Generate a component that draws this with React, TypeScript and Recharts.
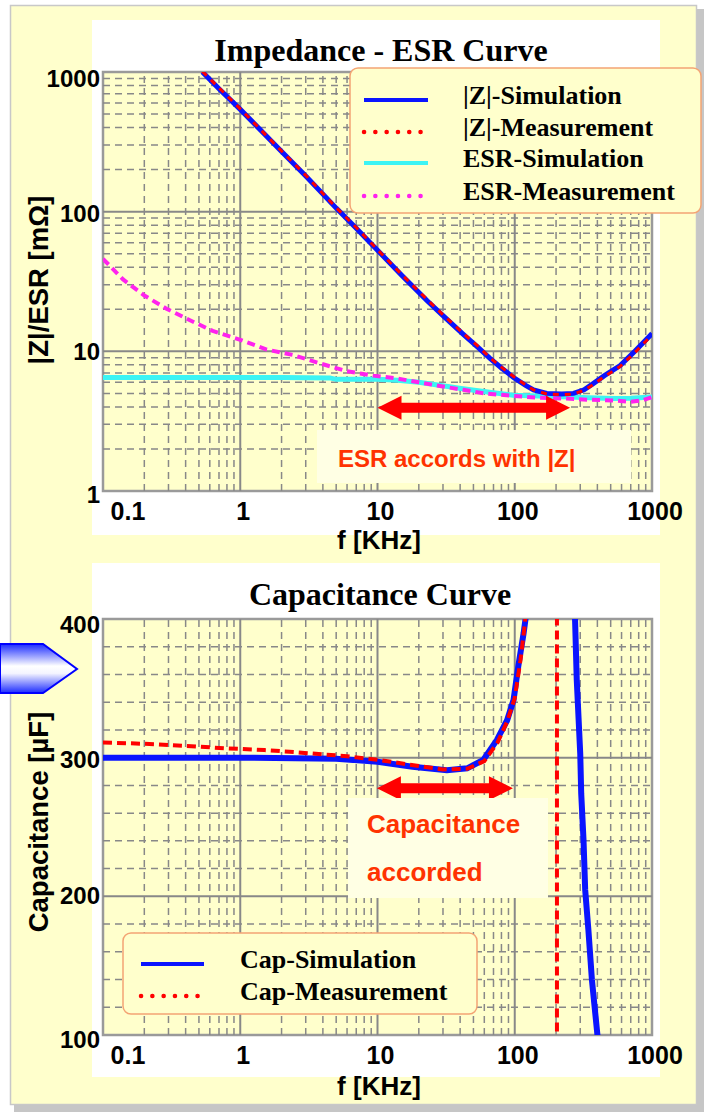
import React from "react";
import { LineChart, Line, XAxis, YAxis, ReferenceLine, ReferenceArea, Legend } from "recharts";

const SANS = "'Liberation Sans', Arial, Helvetica, sans-serif";
const SERIF = "'Liberation Serif', 'Times New Roman', Times, serif";

// frequency axis, kHz (log)
const freqTicks = [0.1, 1, 10, 100, 1000];
const freqMajor = [1, 10, 100];
const freqMinor = [0.2, 0.3, 0.4, 0.5, 0.6, 0.7, 0.8, 0.9, 2, 3, 4, 5, 6, 7, 8, 9, 20, 30, 40, 50, 60, 70, 80, 90, 200, 300, 400, 500, 600, 700, 800, 900];

// impedance / ESR, mOhm (log)
const zTicks = [1, 10, 100, 1000];
const zMajor = [10, 100];
const zMinor = [2, 3, 4, 5, 6, 7, 8, 9, 20, 30, 40, 50, 60, 70, 80, 90, 200, 300, 400, 500, 600, 700, 800, 900];

const zSimFreq = [0.53, 0.7, 1, 1.5, 2, 3, 5, 7, 10, 15, 23, 30, 42, 55, 66, 80, 98, 120, 137, 171, 220, 268, 320, 375, 450, 586, 750, 970, 1000];
const zSimVal = [1000, 760, 540, 360, 270, 180, 106, 76, 53, 35, 23, 18, 13.3, 10.5, 8.9, 7.6, 6.5, 5.7, 5.3, 5.0, 4.95, 5.0, 5.3, 5.9, 6.7, 7.9, 10, 13, 13.4];
const zMeasFreq = [0.53, 0.7, 1, 1.5, 2, 3, 5, 7, 10, 15, 23, 30, 42, 55, 66, 80, 98, 120, 137, 171, 220, 268, 320, 375, 450, 586, 750, 970, 1000];
const zMeasVal = [1010, 770, 545, 362, 272, 182, 107, 77, 53.5, 35.5, 23.5, 18.3, 13.5, 10.7, 9.0, 7.7, 6.6, 5.75, 5.3, 4.95, 4.9, 4.95, 5.25, 5.8, 6.6, 7.8, 9.8, 12.7, 13.1];

const esrSimFreq = [0.1, 0.5, 1, 2, 4.5, 5, 7, 10, 14, 20, 42, 70, 97, 150, 225, 350, 521, 700, 1000];
const esrSimVal = [6.5, 6.5, 6.5, 6.5, 6.45, 6.3, 6.3, 6.3, 6.2, 6.0, 5.4, 5.05, 4.85, 4.78, 4.72, 4.65, 4.6, 4.62, 4.72];
const esrMeasFreq = [0.1, 0.14, 0.2, 0.29, 0.43, 0.63, 1, 1.56, 2.44, 3.8, 6, 9.3, 13.8, 20, 30, 42, 60, 97, 150, 225, 350, 521, 700, 850, 1000];
const esrMeasVal = [46, 32.7, 25.1, 20.2, 16.7, 14, 12.1, 10.3, 9.4, 8.2, 7.2, 6.7, 6.4, 6.0, 5.6, 5.3, 5.0, 4.8, 4.65, 4.6, 4.5, 4.45, 4.35, 4.45, 4.7];

// capacitance, uF (linear)
const capTicks = [100, 200, 300, 400];
const capMajor = [200, 300];
const capMinor = [120, 140, 160, 180, 220, 240, 260, 280, 320, 340, 360, 380];

const capSimFreq = [0.1, 1, 5, 10, 18, 32, 45, 59, 74, 88, 98, 106, 116, 120, 126, 200, 272, 275, 283, 300, 305, 317, 326, 344, 365, 397, 405];
const capSimVal = [300, 300, 299.3, 297, 293.5, 291, 292.3, 298.3, 312.7, 327, 341.6, 365.6, 389.7, 400.5, 425, null, 440, 400, 356, 303, 274, 240.6, 204.6, 175.7, 139.7, 103.6, 95];
const capMeasFreq = [0.1, 0.2, 0.4, 0.8, 1.5, 2.5, 4, 6, 10, 20, 30, 45, 60, 75, 88, 100, 110, 118, 126, 203, 203];
const capMeasVal = [311, 310, 308.5, 306.7, 305.5, 304, 302.4, 301, 298.5, 294, 291.5, 292, 297.5, 311, 326, 343, 370, 395, 425, 425, 60];

const rows = (freq: number[], val: (number | null)[]) => freq.map((f, i) => ({ f, v: val[i] }));

type Series = { name: string; data: { f: number; v: number | null }[]; color: string; width: number; dash?: string };

// legend order
const zSeries: Series[] = [
  { name: "|Z|-Simulation", data: rows(zSimFreq, zSimVal), color: "#0a14ff", width: 5 },
  { name: "|Z|-Measurement", data: rows(zMeasFreq, zMeasVal), color: "#ff0000", width: 3, dash: "6 6" },
  { name: "ESR-Simulation", data: rows(esrSimFreq, esrSimVal), color: "#3cf4f4", width: 5 },
  { name: "ESR-Measurement", data: rows(esrMeasFreq, esrMeasVal), color: "#ff22ee", width: 4, dash: "8 5" },
];
const zDrawOrder = [2, 3, 0, 1];

const capSeries: Series[] = [
  { name: "Cap-Simulation", data: rows(capSimFreq, capSimVal), color: "#0a14ff", width: 6 },
  { name: "Cap-Measurement", data: rows(capMeasFreq, capMeasVal), color: "#ff0000", width: 4, dash: "9 5" },
];

const GRID = "#888888";

const FreqTick = ({ x, y, payload }: any) => {
  const v = payload.value as number;
  const dx = v === 0.1 ? 25 : 3;
  return (
    <text x={x + dx} y={y + 29} textAnchor="middle" fontFamily={SANS} fontWeight="bold" fontSize={25} fill="#000">
      {String(v)}
    </text>
  );
};

const ZTick = ({ x, y, payload }: any) => {
  const v = payload.value as number;
  const dy = v === 1000 ? 15 : v === 1 ? 12 : v === 100 ? 10 : 9;
  return (
    <text x={x - 3} y={y + dy} textAnchor="end" fontFamily={SANS} fontWeight="bold" fontSize={24} fill="#000">
      {String(v)}
    </text>
  );
};

const CapTick = ({ x, y, payload }: any) => {
  const v = payload.value as number;
  const dy = v === 400 ? 14 : v === 100 ? 13 : v === 300 ? 10 : 8;
  return (
    <text x={x - 3} y={y + dy} textAnchor="end" fontFamily={SANS} fontWeight="bold" fontSize={24} fill="#000">
      {String(v)}
    </text>
  );
};

const DoubleArrow = (p: any) => {
  const { x1, y1, x2 } = p;
  const y = y1;
  const hl = 24, hh = 12, sh = 5;
  const pts = [
    [x1, y], [x1 + hl, y - hh], [x1 + hl, y - sh], [x2 - hl, y - sh], [x2 - hl, y - hh],
    [x2, y], [x2 - hl, y + hh], [x2 - hl, y + sh], [x1 + hl, y + sh], [x1 + hl, y + hh],
  ];
  return <polygon points={pts.map((q) => q.join(",")).join(" ")} fill="#ff0000" />;
};

function LegendBox({ series, width, height, sampleX, textX, rowY }: any) {
  return (
    <svg width={width} height={height} style={{ display: "block" }}>
      <rect x={1} y={1} width={width - 2} height={height - 2} rx={8} fill="#FFFFCC" stroke="#f4a474" strokeWidth={1.5} />
      {series.map((s: Series, i: number) => {
        const base = rowY[i];
        return (
          <g key={s.name}>
            {s.dash ? (
              <line x1={sampleX[0]} x2={sampleX[1] - 6} y1={base - 4} y2={base - 4} stroke={s.color} strokeWidth={4.5}
                strokeDasharray="0.1 11.2" strokeLinecap="round" />
            ) : (
              <line x1={sampleX[0]} x2={sampleX[1]} y1={base - 4} y2={base - 4} stroke={s.color} strokeWidth={4} />
            )}
            <text x={textX} y={base} fontFamily={SERIF} fontWeight="bold" fontSize={26} fill="#000">
              {s.name}
            </text>
          </g>
        );
      })}
    </svg>
  );
}

const gridLines = (xs: number[], ys: number[], yMajor: number[]) => [
  ...freqMinor.map((f) => <ReferenceLine key={"xm" + f} x={f} stroke={GRID} strokeWidth={1.5} strokeDasharray="7 5" />),
  ...ys.map((v) => <ReferenceLine key={"ym" + v} y={v} stroke={GRID} strokeWidth={1.5} strokeDasharray="7 5" />),
  ...xs.map((f) => <ReferenceLine key={"xM" + f} x={f} stroke={GRID} strokeWidth={2} />),
  ...yMajor.map((v) => <ReferenceLine key={"yM" + v} y={v} stroke={GRID} strokeWidth={2} />),
];

function ImpedanceChart() {
  return (
    <LineChart width={704} height={560} margin={{ top: 72, right: 52, bottom: 0, left: 0 }}>
      <XAxis dataKey="f" type="number" scale="log" domain={[0.1, 1000]} allowDataOverflow ticks={freqTicks} interval={0}
        axisLine={false} tickLine={false} tickSize={0} tickMargin={0} height={69} tick={<FreqTick />} />
      <YAxis type="number" scale="log" domain={[1, 1000]} allowDataOverflow ticks={zTicks} interval={0}
        axisLine={false} tickLine={false} tickSize={0} tickMargin={0} width={103} tick={<ZTick />} />
      <ReferenceArea x1={0.1} x2={1000} y1={1} y2={1000} fill="#FFFFCC" fillOpacity={1} stroke="none" />
      {gridLines(freqMajor, zMinor, zMajor)}
      {zDrawOrder.map((i) => {
        const s = zSeries[i];
        return (
          <Line key={s.name} data={s.data} dataKey="v" name={s.name} type="linear" stroke={s.color} strokeWidth={s.width}
            strokeDasharray={s.dash} dot={false} activeDot={false} isAnimationActive={false} />
        );
      })}
      <ReferenceLine segment={[{ x: 10, y: 3.94 }, { x: 253, y: 3.94 }]} shape={DoubleArrow} />
      <ReferenceArea x1={0.1} x2={1000} y1={1} y2={1000} fill="none" stroke="#9a9a9a" strokeWidth={2.5} />
      <Legend layout="horizontal" verticalAlign="middle" align="center"
        wrapperStyle={{ left: 349, top: 67, width: 353, height: 147, margin: 0, padding: 0 }}
        content={() => <LegendBox series={zSeries} width={353} height={147} sampleX={[15, 79]} textX={114} rowY={[37, 69, 100, 133]} />} />
    </LineChart>
  );
}

function CapacitanceChart() {
  return (
    <LineChart width={704} height={552} margin={{ top: 59, right: 52, bottom: 0, left: 0 }}>
      <XAxis dataKey="f" type="number" scale="log" domain={[0.1, 1000]} allowDataOverflow ticks={freqTicks} interval={0}
        axisLine={false} tickLine={false} tickSize={0} tickMargin={0} height={77} tick={<FreqTick />} />
      <YAxis type="number" domain={[100, 400]} allowDataOverflow ticks={capTicks} interval={0}
        axisLine={false} tickLine={false} tickSize={0} tickMargin={0} width={103} tick={<CapTick />} />
      <ReferenceArea x1={0.1} x2={1000} y1={100} y2={400} fill="#FFFFCC" fillOpacity={1} stroke="none" />
      {gridLines(freqMajor, capMinor, capMajor)}
      {capSeries.map((s) => (
        <Line key={s.name} data={s.data} dataKey="v" name={s.name} type="linear" stroke={s.color} strokeWidth={s.width}
          strokeDasharray={s.dash} dot={false} activeDot={false} connectNulls={false} isAnimationActive={false} />
      ))}
      <ReferenceLine segment={[{ x: 9.9, y: 278 }, { x: 97, y: 278 }]} shape={DoubleArrow} />
      <ReferenceArea x1={0.1} x2={1000} y1={100} y2={400} fill="none" stroke="#9a9a9a" strokeWidth={2.5} />
      <Legend layout="horizontal" verticalAlign="middle" align="center"
        wrapperStyle={{ left: 122, top: 372, width: 356, height: 83, margin: 0, padding: 0 }}
        content={() => <LegendBox series={capSeries} width={356} height={83} sampleX={[19, 82]} textX={118} rowY={[36, 68]} />} />
    </LineChart>
  );
}

export default function App() {
  const abs: React.CSSProperties = { position: "absolute", left: 0, top: 0 };
  return (
    <div style={{ position: "absolute", left: 0, top: 0, width: 704, height: 1112, overflow: "hidden", background: "#fff" }}>
      <svg width={704} height={1112} style={abs}>
        <defs>
          <linearGradient id="arrowFill" x1="0" y1="0" x2="0" y2="1">
            <stop offset="0" stopColor="#1c2cff" />
            <stop offset="0.45" stopColor="#ffffff" />
            <stop offset="0.6" stopColor="#f4f4ff" />
            <stop offset="1" stopColor="#1c2cff" />
          </linearGradient>
        </defs>
        <rect x={14} y={9} width={690} height={1103} fill="#c6c6c6" />
        <rect x={10.5} y={5.5} width={686} height={1099} fill="#FFFFCC" stroke="#c8c8c8" strokeWidth={1.5} />
        <rect x={92} y={20} width={568} height={515} fill="#ffffff" />
        <rect x={92} y={563} width={568} height={514} fill="#ffffff" />
        <polygon points="0,644 43,644 77,669 43,693 0,693" fill="url(#arrowFill)" stroke="#0000ff" strokeWidth={2} />
      </svg>
      <div style={{ ...abs }}>
        <ImpedanceChart />
      </div>
      <div style={{ ...abs, top: 560 }}>
        <CapacitanceChart />
      </div>
      <svg width={704} height={1112} style={{ ...abs, pointerEvents: "none" }}>
        <text x={381} y={61} textAnchor="middle" fontFamily={SERIF} fontWeight="bold" fontSize={32} fill="#000">Impedance - ESR Curve</text>
        <text x={380} y={605} textAnchor="middle" fontFamily={SERIF} fontWeight="bold" fontSize={32} fill="#000">Capacitance Curve</text>
        <text transform="translate(48, 280) rotate(-90)" textAnchor="middle" fontFamily={SANS} fontWeight="bold" fontSize={27.5} fill="#000">|Z|/ESR [mΩ]</text>
        <text transform="translate(48, 822) rotate(-90)" textAnchor="middle" fontFamily={SANS} fontWeight="bold" fontSize={27.5} fill="#000">Capacitance [µF]</text>
        <text x={379} y={549} textAnchor="middle" fontFamily={SANS} fontWeight="bold" fontSize={26} fill="#000">f [KHz]</text>
        <text x={379} y={1095} textAnchor="middle" fontFamily={SANS} fontWeight="bold" fontSize={26} fill="#000">f [KHz]</text>
        <rect x={317} y={430} width={314} height={53} fill="#FFFFE4" />
        <text x={338} y={467} fontFamily={SANS} fontWeight="bold" fontSize={24} fill="#ff3300">ESR accords with |Z|</text>
        <rect x={348} y={798} width={200} height={100} fill="#FFFFE4" />
        <text x={367} y={833} fontFamily={SANS} fontWeight="bold" fontSize={26} fill="#ff3300">Capacitance</text>
        <text x={367} y={881} fontFamily={SANS} fontWeight="bold" fontSize={26} fill="#ff3300">accorded</text>
      </svg>
    </div>
  );
}
